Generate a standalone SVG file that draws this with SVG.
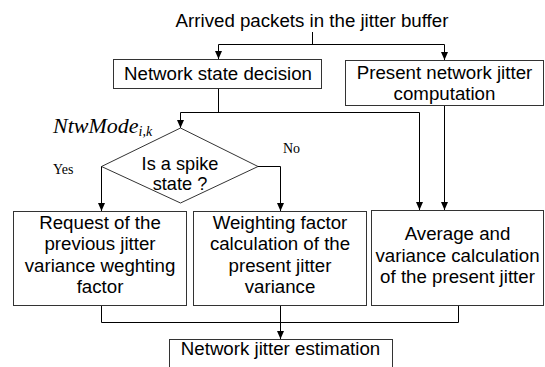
<svg xmlns="http://www.w3.org/2000/svg" width="545" height="367" viewBox="0 0 545 367">
<defs>
<marker id="arr" markerUnits="userSpaceOnUse" markerWidth="8" markerHeight="9" refX="8" refY="3.5" orient="auto">
<path d="M0,0 L8,3.5 L0,7 z" fill="#000"/>
</marker>
<style>
.box{fill:#fff;stroke:#333;stroke-width:1}
.t{font-family:"Liberation Sans",Arial,sans-serif;font-size:18.7px;fill:#000;text-anchor:middle}
.d{font-family:"Liberation Sans",Arial,sans-serif;font-size:18.2px;fill:#000;text-anchor:middle}
.s{font-family:"Liberation Serif","Times New Roman",serif;font-size:14px;fill:#000}
.c{fill:none;stroke:#000;stroke-width:1}
</style>
</defs>
<rect width="545" height="367" fill="#fff"/>
<g id="title"><text class="t" x="312" y="27">Arrived packets in the jitter buffer</text></g>
<g id="connectors">
<path class="c" d="M312.5,32 V44.5 M218.5,44.5 H444.5"/>
<path class="c" d="M218.5,44.5 V59" marker-end="url(#arr)"/>
<path class="c" d="M444.5,44.5 V60" marker-end="url(#arr)"/>
<path class="c" d="M218.5,88 V112.5 M180.5,112.5 H419.5"/>
<path class="c" d="M180.5,112.5 V128" marker-end="url(#arr)"/>
<path class="c" d="M419.5,112.5 V210" marker-end="url(#arr)"/>
<path class="c" d="M444.5,106 V210" marker-end="url(#arr)"/>
<path class="c" d="M101.5,166 V211" marker-end="url(#arr)"/>
<path class="c" d="M257,166.5 H280.5 V211" marker-end="url(#arr)"/>
<path class="c" d="M101.5,306 V322.5 H458.5 V306"/>
<path class="c" d="M280.5,306 V339" marker-end="url(#arr)"/>
</g>
<g id="n1"><rect class="box" x="113.5" y="59.5" width="208" height="29"/><text class="t" x="218" y="80">Network state decision</text></g>
<g id="n2"><rect class="box" x="345.5" y="60.5" width="198" height="45"/><text class="t" x="444.5" y="79">Present network jitter</text><text class="t" x="444.5" y="100">computation</text></g>
<g id="d1"><path class="box" d="M180.5,128 L258,166.5 L180.5,203 L101.5,166.5 Z"/><text class="d" x="180" y="169.5">Is a spike</text><text class="d" x="180" y="190">state ?</text></g>
<g id="lbl">
<text x="53" y="133" font-family="'Liberation Serif','Times New Roman',serif" font-size="22" font-style="italic">NtwMode<tspan font-size="14" dy="3">i,k</tspan></text>
<text class="s" x="53" y="174">Yes</text>
<text class="s" x="283" y="153">No</text>
</g>
<g id="n3"><rect class="box" x="13.5" y="211.5" width="173" height="94"/><text class="t" x="100" y="228.5">Request of the</text><text class="t" x="100" y="250">previous jitter</text><text class="t" x="100" y="271.5">variance weghting</text><text class="t" x="100" y="293">factor</text></g>
<g id="n4"><rect class="box" x="193.5" y="211.5" width="173" height="94"/><text class="t" x="280" y="228.5">Weighting factor</text><text class="t" x="280" y="250">calculation of the</text><text class="t" x="280" y="271.5">present jitter</text><text class="t" x="280" y="293">variance</text></g>
<g id="n5"><rect class="box" x="371.5" y="210.5" width="172" height="95"/><text class="t" x="457.5" y="240">Average and</text><text class="t" x="457.5" y="261.5">variance calculation</text><text class="t" x="457.5" y="283">of the present jitter</text></g>
<g id="n6"><rect class="box" x="169.5" y="339.5" width="223" height="40"/><text class="t" x="280.5" y="355">Network jitter estimation</text></g>
</svg>
